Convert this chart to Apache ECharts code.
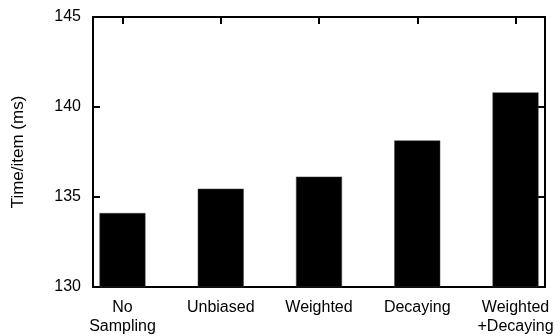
<!DOCTYPE html>
<html>
<head>
<meta charset="utf-8">
<script src="https://cdn.jsdelivr.net/npm/echarts@6/dist/echarts.min.js"></script>
<style>html,body{margin:0;padding:0;background:#fff;}#c{width:560px;height:336px;}</style>
</head>
<body>
<div id="c"></div>
<script>
var categories = ['No\nSampling', 'Unbiased', 'Weighted', 'Decaying', 'Weighted\n+Decaying'];
var timePerItem = [134.11, 135.46, 136.13, 138.14, 140.81];
var yTicks = [130, 135, 140, 145];
var yAxisName = 'Time/item (ms)';

var positions = categories.map(function (c, i) { return i; });
var barData = timePerItem.map(function (v, i) { return [positions[i], v]; });
var FONT = 'Liberation Sans, Arial, Helvetica, sans-serif';

var chart = echarts.init(document.getElementById('c'), null, {renderer: 'canvas'});
chart.setOption({
  animation: false,
  backgroundColor: '#fff',
  grid: {left: 93, right: 15, top: 17, bottom: 49, containLabel: false},
  xAxis: [{
    type: 'value', position: 'bottom', min: -0.3, max: 4.3,
    splitLine: {show: false},
    axisLine: {show: true, onZero: false, lineStyle: {color: '#000', width: 2}},
    axisTick: {show: true, inside: true, length: 7, customValues: positions, lineStyle: {color: '#000', width: 2}},
    axisLabel: {show: true, customValues: positions, margin: 11, color: '#000', fontSize: 16, fontFamily: FONT, lineHeight: 19,
      formatter: function (v) { return categories[Math.round(v)]; }}
  }, {
    type: 'value', position: 'top', min: -0.3, max: 4.3,
    splitLine: {show: false},
    axisLine: {show: true, onZero: false, lineStyle: {color: '#000', width: 2}},
    axisTick: {show: true, inside: true, length: 7, customValues: positions, lineStyle: {color: '#000', width: 2}},
    axisLabel: {show: false}
  }],
  yAxis: [{
    type: 'value', position: 'left', min: yTicks[0], max: yTicks[yTicks.length - 1], interval: 5,
    name: yAxisName, nameLocation: 'middle', nameGap: 66,
    nameTextStyle: {color: '#000', fontSize: 17, fontFamily: FONT},
    splitLine: {show: false},
    axisLine: {show: true, onZero: false, lineStyle: {color: '#000', width: 2}},
    axisTick: {show: true, inside: true, length: 7, lineStyle: {color: '#000', width: 2}},
    axisLabel: {margin: 12, color: '#000', fontSize: 16, fontFamily: FONT}
  }, {
    type: 'value', position: 'right', min: yTicks[0], max: yTicks[yTicks.length - 1], interval: 5,
    splitLine: {show: false},
    axisLine: {show: true, onZero: false, lineStyle: {color: '#000', width: 2}},
    axisTick: {show: true, inside: true, length: 7, lineStyle: {color: '#000', width: 2}},
    axisLabel: {show: false}
  }],
  series: [{
    type: 'bar',
    xAxisIndex: 0, yAxisIndex: 0,
    data: barData,
    barWidth: 46,
    itemStyle: {color: '#000', borderColor: '#444', borderWidth: 0.5}
  }]
});
</script>
</body>
</html>
